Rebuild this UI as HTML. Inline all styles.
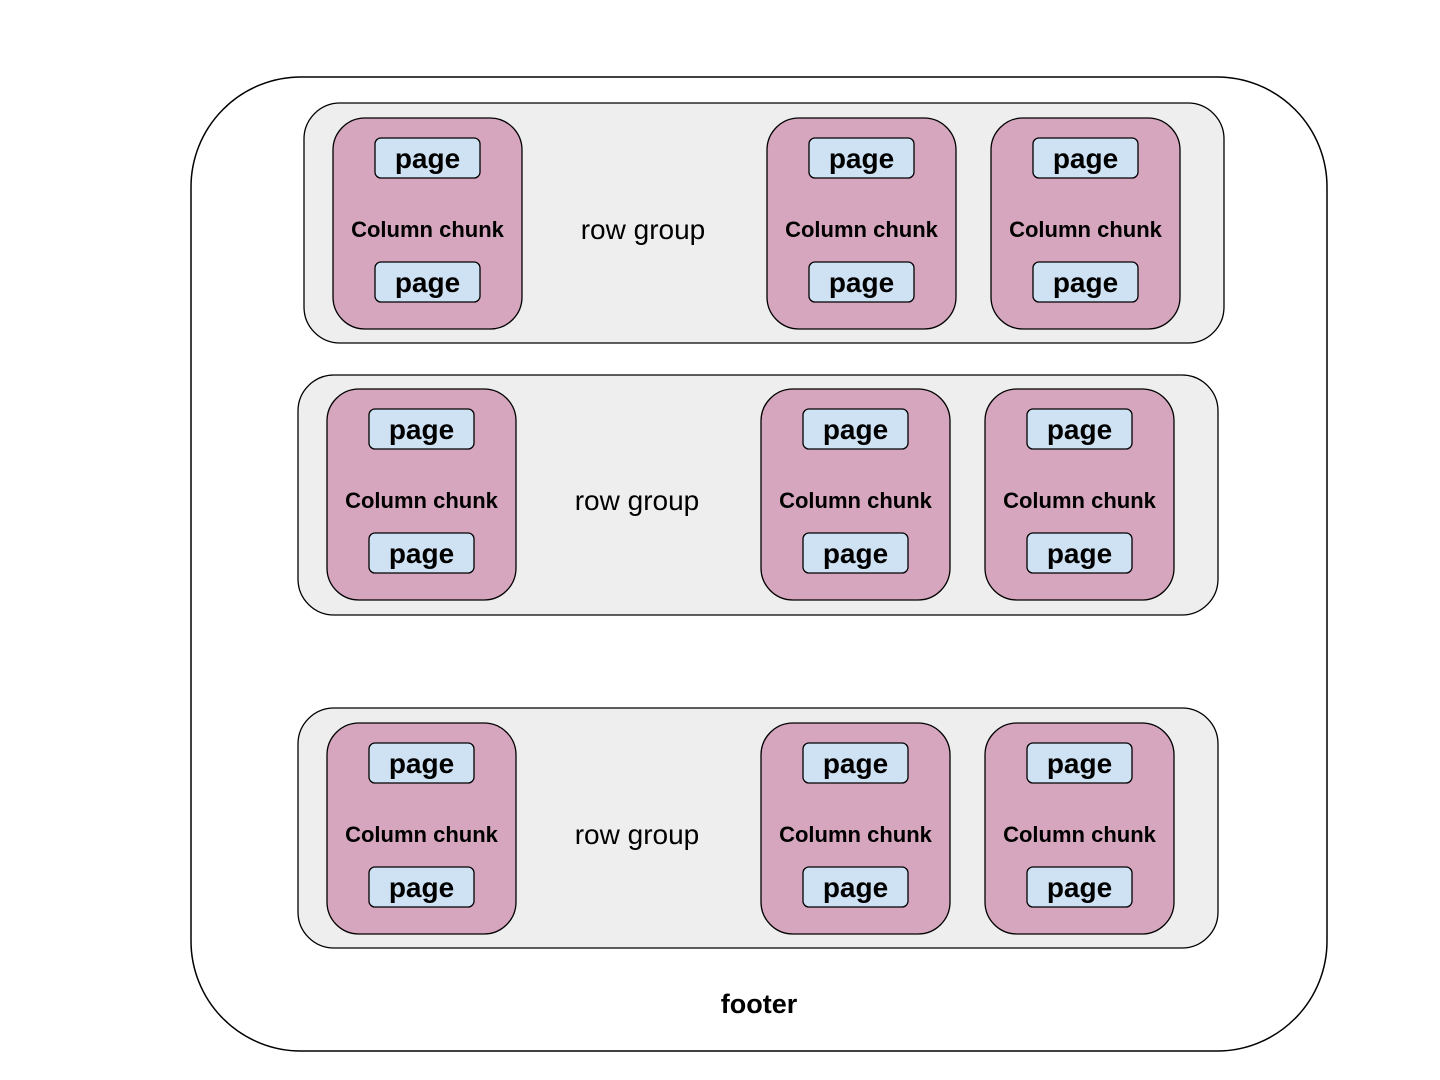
<!DOCTYPE html>
<html><head><meta charset="utf-8"><style>
html,body{margin:0;padding:0;background:#fff;width:1440px;height:1080px;overflow:hidden}
text{font-family:"Liberation Sans",sans-serif}
</style></head><body>
<svg width="1440" height="1080" xmlns="http://www.w3.org/2000/svg">
<rect x="191" y="77" width="1136" height="974" rx="110" ry="110" fill="#fff" stroke="#000" stroke-width="1.5"/>
<text x="759" y="1013" font-size="27" font-weight="bold" text-anchor="middle">footer</text>
<!-- row group 1 -->
<g transform="translate(304,103)">
<rect x="0" y="0" width="920" height="240" rx="36" fill="#eeeeee" stroke="#000" stroke-width="1.3"/>
<text x="339" y="136" font-size="28" text-anchor="middle">row group</text>
<g transform="translate(29,15)"><rect width="189" height="211" rx="32" fill="#d5a6bd" stroke="#000" stroke-width="1.3"/><rect x="42" y="20" width="105" height="40" rx="6" fill="#cfe2f3" stroke="#000" stroke-width="1.3"/><text x="94.5" y="50" font-size="28" font-weight="bold" text-anchor="middle">page</text><text x="94.5" y="119" font-size="22" font-weight="bold" text-anchor="middle">Column chunk</text><rect x="42" y="144" width="105" height="40" rx="6" fill="#cfe2f3" stroke="#000" stroke-width="1.3"/><text x="94.5" y="174" font-size="28" font-weight="bold" text-anchor="middle">page</text></g>
<g transform="translate(463,15)"><rect width="189" height="211" rx="32" fill="#d5a6bd" stroke="#000" stroke-width="1.3"/><rect x="42" y="20" width="105" height="40" rx="6" fill="#cfe2f3" stroke="#000" stroke-width="1.3"/><text x="94.5" y="50" font-size="28" font-weight="bold" text-anchor="middle">page</text><text x="94.5" y="119" font-size="22" font-weight="bold" text-anchor="middle">Column chunk</text><rect x="42" y="144" width="105" height="40" rx="6" fill="#cfe2f3" stroke="#000" stroke-width="1.3"/><text x="94.5" y="174" font-size="28" font-weight="bold" text-anchor="middle">page</text></g>
<g transform="translate(687,15)"><rect width="189" height="211" rx="32" fill="#d5a6bd" stroke="#000" stroke-width="1.3"/><rect x="42" y="20" width="105" height="40" rx="6" fill="#cfe2f3" stroke="#000" stroke-width="1.3"/><text x="94.5" y="50" font-size="28" font-weight="bold" text-anchor="middle">page</text><text x="94.5" y="119" font-size="22" font-weight="bold" text-anchor="middle">Column chunk</text><rect x="42" y="144" width="105" height="40" rx="6" fill="#cfe2f3" stroke="#000" stroke-width="1.3"/><text x="94.5" y="174" font-size="28" font-weight="bold" text-anchor="middle">page</text></g>
</g>
<!-- row group 2 -->
<g transform="translate(298,375)">
<rect x="0" y="0" width="920" height="240" rx="36" fill="#eeeeee" stroke="#000" stroke-width="1.3"/>
<text x="339" y="135" font-size="28" text-anchor="middle">row group</text>
<g transform="translate(29,14)"><rect width="189" height="211" rx="32" fill="#d5a6bd" stroke="#000" stroke-width="1.3"/><rect x="42" y="20" width="105" height="40" rx="6" fill="#cfe2f3" stroke="#000" stroke-width="1.3"/><text x="94.5" y="50" font-size="28" font-weight="bold" text-anchor="middle">page</text><text x="94.5" y="119" font-size="22" font-weight="bold" text-anchor="middle">Column chunk</text><rect x="42" y="144" width="105" height="40" rx="6" fill="#cfe2f3" stroke="#000" stroke-width="1.3"/><text x="94.5" y="174" font-size="28" font-weight="bold" text-anchor="middle">page</text></g>
<g transform="translate(463,14)"><rect width="189" height="211" rx="32" fill="#d5a6bd" stroke="#000" stroke-width="1.3"/><rect x="42" y="20" width="105" height="40" rx="6" fill="#cfe2f3" stroke="#000" stroke-width="1.3"/><text x="94.5" y="50" font-size="28" font-weight="bold" text-anchor="middle">page</text><text x="94.5" y="119" font-size="22" font-weight="bold" text-anchor="middle">Column chunk</text><rect x="42" y="144" width="105" height="40" rx="6" fill="#cfe2f3" stroke="#000" stroke-width="1.3"/><text x="94.5" y="174" font-size="28" font-weight="bold" text-anchor="middle">page</text></g>
<g transform="translate(687,14)"><rect width="189" height="211" rx="32" fill="#d5a6bd" stroke="#000" stroke-width="1.3"/><rect x="42" y="20" width="105" height="40" rx="6" fill="#cfe2f3" stroke="#000" stroke-width="1.3"/><text x="94.5" y="50" font-size="28" font-weight="bold" text-anchor="middle">page</text><text x="94.5" y="119" font-size="22" font-weight="bold" text-anchor="middle">Column chunk</text><rect x="42" y="144" width="105" height="40" rx="6" fill="#cfe2f3" stroke="#000" stroke-width="1.3"/><text x="94.5" y="174" font-size="28" font-weight="bold" text-anchor="middle">page</text></g>
</g>
<!-- row group 3 -->
<g transform="translate(298,708)">
<rect x="0" y="0" width="920" height="240" rx="36" fill="#eeeeee" stroke="#000" stroke-width="1.3"/>
<text x="339" y="136" font-size="28" text-anchor="middle">row group</text>
<g transform="translate(29,15)"><rect width="189" height="211" rx="32" fill="#d5a6bd" stroke="#000" stroke-width="1.3"/><rect x="42" y="20" width="105" height="40" rx="6" fill="#cfe2f3" stroke="#000" stroke-width="1.3"/><text x="94.5" y="50" font-size="28" font-weight="bold" text-anchor="middle">page</text><text x="94.5" y="119" font-size="22" font-weight="bold" text-anchor="middle">Column chunk</text><rect x="42" y="144" width="105" height="40" rx="6" fill="#cfe2f3" stroke="#000" stroke-width="1.3"/><text x="94.5" y="174" font-size="28" font-weight="bold" text-anchor="middle">page</text></g>
<g transform="translate(463,15)"><rect width="189" height="211" rx="32" fill="#d5a6bd" stroke="#000" stroke-width="1.3"/><rect x="42" y="20" width="105" height="40" rx="6" fill="#cfe2f3" stroke="#000" stroke-width="1.3"/><text x="94.5" y="50" font-size="28" font-weight="bold" text-anchor="middle">page</text><text x="94.5" y="119" font-size="22" font-weight="bold" text-anchor="middle">Column chunk</text><rect x="42" y="144" width="105" height="40" rx="6" fill="#cfe2f3" stroke="#000" stroke-width="1.3"/><text x="94.5" y="174" font-size="28" font-weight="bold" text-anchor="middle">page</text></g>
<g transform="translate(687,15)"><rect width="189" height="211" rx="32" fill="#d5a6bd" stroke="#000" stroke-width="1.3"/><rect x="42" y="20" width="105" height="40" rx="6" fill="#cfe2f3" stroke="#000" stroke-width="1.3"/><text x="94.5" y="50" font-size="28" font-weight="bold" text-anchor="middle">page</text><text x="94.5" y="119" font-size="22" font-weight="bold" text-anchor="middle">Column chunk</text><rect x="42" y="144" width="105" height="40" rx="6" fill="#cfe2f3" stroke="#000" stroke-width="1.3"/><text x="94.5" y="174" font-size="28" font-weight="bold" text-anchor="middle">page</text></g>
</g>
</svg>
</body></html>
